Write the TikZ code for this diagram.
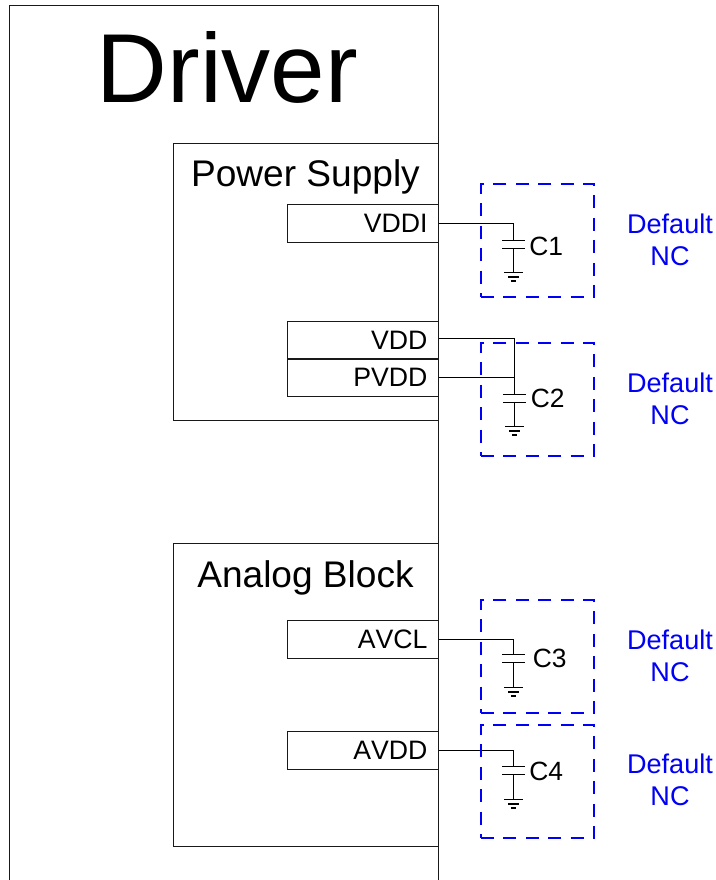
\documentclass[tikz,border=0pt]{standalone}
\usepackage{fontspec}
\setmainfont[Kerning=Off]{Liberation Sans}
\definecolor{ncblue}{RGB}{0,0,245}
\tikzset{
  frame/.style={draw=black!90,line width=0.75pt,outer sep=0pt,inner sep=0pt,anchor=north west},
  portbox/.style={frame,minimum width=113.25pt,minimum height=28.5pt,text width=96.75pt,inner xsep=8.25pt,align=right,
    font=\fontsize{20}{24}\selectfont,text height=14.3pt,text depth=0.6pt},
  title/.style={anchor=base,inner sep=0pt,font=\fontsize{27.8}{32}\selectfont},
  nc/.style={draw=ncblue,line width=1.2pt,dash pattern=on 9.8pt off 7pt,minimum width=84.75pt,minimum height=84.75pt,outer sep=0pt,inner sep=0pt,anchor=north west},
  ncnote/.style={text=ncblue,align=center,inner sep=0pt,font=\fontsize{20.3}{24}\selectfont,text height=14.5pt,text depth=0pt},
  capname/.style={anchor=base west,inner sep=0pt,font=\fontsize{19.8}{24}\selectfont},
  wire/.style={draw=black,line width=1.25pt},
  plate/.style={draw=black,line width=1.25pt}
}
% name, x, upper plate y, ground rail y
\newcommand{\capgnd}[4]{%
  \coordinate (#1a) at (#2,#3);
  \coordinate (#1b) at (#2,#3+8);
  \coordinate (#1g) at (#2,#4);
  \draw[plate] ([xshift=-8.6pt]#1a) -- ([xshift=8.6pt]#1a);
  \draw[plate] ([xshift=-8.6pt]#1b) -- ([xshift=8.6pt]#1b);
  \draw[wire] (#1b) -- (#1g);
  \draw[plate] ([xshift=-7pt]#1g) -- ([xshift=7pt]#1g);
  \draw[plate] ([xshift=-4pt,yshift=-3.2pt]#1g) -- ([xshift=4pt,yshift=-3.2pt]#1g);
  \draw[plate] ([xshift=-1.9pt,yshift=-6.6pt]#1g) -- ([xshift=1.9pt,yshift=-6.6pt]#1g);
}
\begin{document}
\begin{tikzpicture}[x=0.75pt,y=-0.75pt]
\useasboundingbox (0,0) rectangle (716,880);
% Driver outline (runs off the bottom)
\coordinate (dbl) at (9.5,880);
\coordinate (dtr) at (438.5,5.5);
\coordinate (dbr) at (438.5,880);
\draw[draw=black!90,line width=0.75pt] (dbl) |- (dtr) -- (dbr);
\node[anchor=base,inner sep=0pt,font=\fontsize{73.5}{80}\selectfont] (driver) at (227.5,103) {Driver};

% Blocks
\node[frame,minimum width=198.75pt,minimum height=207.75pt] (power) at (173.5,143.5) {};
\node[title] (powert) at (305.5,187) {Power Supply};
\node[frame,minimum width=198.75pt,minimum height=227.25pt] (analog) at (173.5,543.5) {};
\node[title] (analogt) at (305.5,587) {Analog Block};

% Ports
\node[portbox] (vddi) at (287.5,204.5) {VDDI};
\node[portbox] (vdd)  at (287.5,321.5) {VDD};
\node[portbox] (pvdd) at (287.5,358.5) {PVDD};
\node[portbox] (avcl) at (287.5,620.5) {AVCL};
\node[portbox] (avdd) at (287.5,731.5) {AVDD};

% Capacitors
\capgnd{cA}{513.5}{240.5}{272.5}
\capgnd{cB}{514.5}{394.5}{426.5}
\capgnd{cC}{513.5}{654.5}{687.5}
\capgnd{cD}{513.5}{766.5}{799.5}

% Connectors
\draw[wire] (vddi.east) -| (cAa);
\draw[wire] ([yshift=1.5pt]vdd.east) -| (cBa);
\draw[wire] (pvdd.east) -| (cBa);
\draw[wire] (avcl.east) -| (cCa);
\draw[wire] (avdd.east) -| (cDa);

% Capacitor names
\node[capname] (ca) at (529,256) {C1};
\node[capname] (cb) at (530.5,407) {C2};
\node[capname] (cc) at (532.5,667) {C3};
\node[capname] (cd) at (529,780) {C4};

% Not-connected regions
\node[nc] (ncA) at (481,184) {};
\node[nc] (ncB) at (481,343) {};
\node[nc] (ncC) at (481,600) {};
\node[nc] (ncD) at (481,725) {};

\node[ncnote] (noteA) at (670,256) {Default\\NC};
\node[ncnote] (noteB) at (670,415) {Default\\NC};
\node[ncnote] (noteC) at (670,672) {Default\\NC};
\node[ncnote] (noteD) at (670,796) {Default\\NC};
\end{tikzpicture}
\end{document}
